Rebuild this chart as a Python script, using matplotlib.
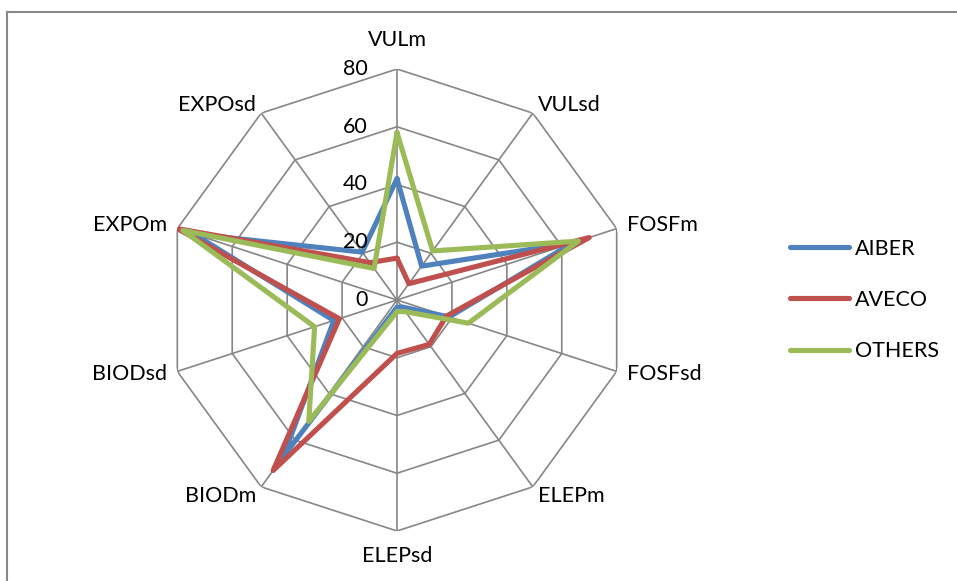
import numpy as np
import matplotlib
matplotlib.use("Agg")
import matplotlib.pyplot as plt
from matplotlib.lines import Line2D

plt.rcParams["font.family"] = ["Lato", "DejaVu Sans"]

# Radar axes, clockwise from the top
categories = ["VULm", "VULsd", "FOSFm", "FOSFsd", "ELEPm",
              "ELEPsd", "BIODm", "BIODsd", "EXPOm", "EXPOsd"]

aiber = [42, 14.5, 64, 19, 3, 2.5, 67, 23, 74, 20.5]
aveco = [14.5, 7, 70, 18, 19, 18.5, 73, 21, 80, 16]
others = [58, 21, 66, 26, 5, 4, 52, 30, 78, 13.5]

series_names = ["AIBER", "AVECO", "OTHERS"]
series_values = [aiber, aveco, others]
series_colors = ["#4F81BD", "#C0504D", "#9BBB59"]

r_ticks = [0, 20, 40, 60, 80]
r_max = 80

grid_color = "#868686"
font_size = 15.5

fig = plt.figure(figsize=(9.57, 5.81), dpi=100)
W, H = 957, 581
cx, cy, R = 397, 300, 231
ax = fig.add_axes([(cx - R) / W, (H - cy - R) / H, 2 * R / W, 2 * R / H],
                  projection="polar")
ax.set_theta_zero_location("N")
ax.set_theta_direction(-1)
ax.set_ylim(0, r_max)
ax.grid(False)
ax.spines["polar"].set_visible(False)
ax.set_xticks([])
ax.set_yticks([])
ax.patch.set_alpha(0)

n = len(categories)
angles = np.arange(n) * 2 * np.pi / n
closed = np.append(angles, angles[0])

# polygonal grid rings
for r in r_ticks[1:]:
    ax.plot(closed, [r] * (n + 1), color=grid_color, lw=1.2, zorder=1)
# spokes
for a in angles:
    ax.plot([a, a], [0, r_max], color=grid_color, lw=1.2, zorder=1)

# data series
for name, vals, col in zip(series_names, series_values, series_colors):
    ax.plot(closed, list(vals) + [vals[0]], color=col, lw=3.7,
            solid_joinstyle="round", solid_capstyle="round", label=name,
            zorder=3)

# radial value labels along the vertical axis
for r in r_ticks:
    ax.annotate(str(r), xy=(0, r), xytext=(-29, 0), textcoords="offset pixels",
                ha="right", va="center", fontsize=font_size, color="black",
                annotation_clip=False)

# category labels placed just outside each outer vertex
label_offsets = {
    0: ((0, 29), "center", "center"),
    1: ((5, 8), "left", "center"),
    2: ((10, 4), "left", "center"),
    3: ((10, -3), "left", "center"),
    4: ((5, -9), "left", "center"),
    5: ((0, -25), "center", "center"),
    6: ((-5, -9), "right", "center"),
    7: ((-10, -3), "right", "center"),
    8: ((-10, 4), "right", "center"),
    9: ((-5, 8), "right", "center"),
}
for i, (a, lab) in enumerate(zip(angles, categories)):
    (dx, dy), ha, va = label_offsets[i]
    ax.annotate(lab, xy=(a, r_max), xytext=(dx, dy), textcoords="offset pixels",
                ha=ha, va=va, fontsize=font_size, color="black",
                annotation_clip=False)

# legend on the right
fig.legend(loc="center left", bbox_to_anchor=(790 / W, 1 - 300 / H),
           frameon=False, fontsize=font_size, handlelength=2.75,
           handletextpad=0.25, labelspacing=1.45, borderpad=0,
           borderaxespad=0)

# chart area border (top and left edges)
border_kw = dict(color="#898989", lw=1.5, transform=fig.transFigure)
fig.add_artist(Line2D([7 / W, 1.0], [1 - 12 / H, 1 - 12 / H], **border_kw))
fig.add_artist(Line2D([7 / W, 7 / W], [0, 1 - 12 / H], **border_kw))

fig.savefig("out.png", dpi=100)
